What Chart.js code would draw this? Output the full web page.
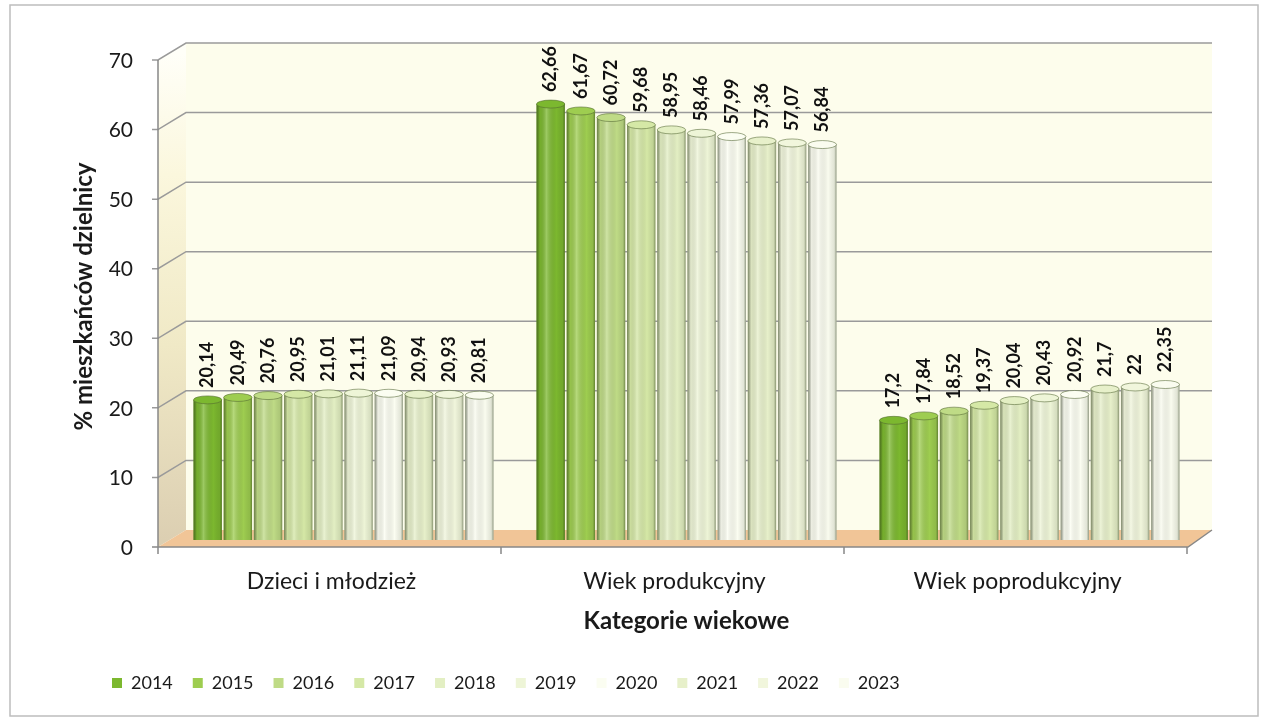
<!DOCTYPE html>
<html lang="pl">
<head>
    <meta charset="UTF-8">
    <title>Kategorie wiekowe</title>
    <script src="https://cdn.jsdelivr.net/npm/chart.js"></script>
    <style>
        html, body { margin: 0; padding: 0; background: #fff; }
        #wrap { width: 1270px; height: 728px; position: relative; }
    </style>
</head>
<body>
<div id="wrap"><canvas id="chart" width="1270" height="728"></canvas></div>
<script>
    const categories = ["Dzieci i młodzież", "Wiek produkcyjny", "Wiek poprodukcyjny"];
    const years = ["2014", "2015", "2016", "2017", "2018", "2019", "2020", "2021", "2022", "2023"];
    const values = [
        [20.14, 62.66, 17.2],
        [20.49, 61.67, 17.84],
        [20.76, 60.72, 18.52],
        [20.95, 59.68, 19.37],
        [21.01, 58.95, 20.04],
        [21.11, 58.46, 20.43],
        [21.09, 57.99, 20.92],
        [20.94, 57.36, 21.7],
        [20.93, 57.07, 22],
        [20.81, 56.84, 22.35]
    ];
    const colors = ["#7cb82f", "#9ecd50", "#bfdb86", "#d5e8a6", "#e3efc3", "#eef5d7",
                    "#fbfdf1", "#e7f0ca", "#f1f6dc", "#fafcef"];
    const yTicks = [0, 10, 20, 30, 40, 50, 60, 70];

    const FONT = "Lato, 'Open Sans', sans-serif";

    // 3D-ish walls, floor and grid drawn behind the bars
    const walls = {
        id: "walls",
        beforeDatasetsDraw(chart) {
            const c = chart.ctx, a = chart.chartArea, y = chart.scales.y;
            const fx = a.left - 14, bx = a.left + 14, rx = a.right + 11, frx = a.right - 13;
            const up = 10, dn = 7;
            const top = y.getPixelForValue(70), zero = y.getPixelForValue(0);
            c.save();
            // back wall
            c.fillStyle = "#fdfdec";
            c.fillRect(bx, top - up, rx - bx, zero - top);
            // left wall
            const g = c.createLinearGradient(0, top, 0, zero);
            g.addColorStop(0, "#fffff8");
            g.addColorStop(0.25, "#fbf7dd");
            g.addColorStop(0.6, "#f0e9c6");
            g.addColorStop(1, "#dccfb2");
            c.fillStyle = g;
            c.beginPath();
            c.moveTo(fx, top + dn); c.lineTo(bx, top - up);
            c.lineTo(bx, zero - up); c.lineTo(fx, zero + dn);
            c.closePath(); c.fill();
            // floor
            c.fillStyle = "#f1c597";
            c.beginPath();
            c.moveTo(fx, zero + dn); c.lineTo(bx, zero - up);
            c.lineTo(rx, zero - up); c.lineTo(frx, zero + dn);
            c.closePath(); c.fill();
            // grid lines
            c.strokeStyle = "#9a9a9a";
            c.lineWidth = 1.5;
            yTicks.forEach(v => {
                if (v === 0) return;
                const p = y.getPixelForValue(v);
                c.beginPath();
                c.moveTo(fx - 6, p + dn); c.lineTo(fx, p + dn);
                c.lineTo(bx, p - up); c.lineTo(rx, p - up);
                c.stroke();
            });
            // axes
            c.strokeStyle = "#888";
            c.beginPath();
            c.moveTo(fx, top + dn); c.lineTo(fx, zero + dn + 6);
            c.moveTo(fx - 6, zero + dn); c.lineTo(frx, zero + dn); c.lineTo(rx, zero - up);
            const cw = (a.right - a.left) / categories.length;
            for (let i = 0; i <= categories.length; i++) {
                const x = fx + i * cw;
                c.moveTo(x, zero + dn); c.lineTo(x, zero + dn + 7);
            }
            c.stroke();
            c.restore();
        },
        afterDraw(chart) {
            const c = chart.ctx;
            c.save();
            c.strokeStyle = "#bdbdbd";
            c.lineWidth = 1.5;
            c.strokeRect(10, 5, 1248, 711);
            c.restore();
        }
    };

    // cylinder shading + rotated value labels above bars
    const cylinders = {
        id: "cylinders",
        afterDatasetsDraw(chart) {
            const c = chart.ctx;
            c.save();
            chart.data.datasets.forEach((ds, i) => {
                chart.getDatasetMeta(i).data.forEach((bar, j) => {
                    const w = bar.width, l = bar.x - w / 2, h = bar.base - bar.y;
                    const g = c.createLinearGradient(l, 0, l + w, 0);
                    g.addColorStop(0, "rgba(40,55,20,0.55)");
                    g.addColorStop(0.12, "rgba(0,0,0,0.05)");
                    g.addColorStop(0.35, "rgba(255,255,255,0.25)");
                    g.addColorStop(0.7, "rgba(0,0,0,0)");
                    g.addColorStop(0.92, "rgba(40,55,20,0.12)");
                    g.addColorStop(1, "rgba(40,55,20,0.5)");
                    c.fillStyle = g;
                    c.fillRect(l, bar.y, w, h);
                    // top cap
                    c.beginPath();
                    c.ellipse(bar.x, bar.y, w / 2, 4, 0, 0, Math.PI * 2);
                    c.fillStyle = ds.backgroundColor;
                    c.fill();
                    c.strokeStyle = "rgba(80,100,50,0.55)";
                    c.lineWidth = 1;
                    c.stroke();
                });
            });
            c.font = "bold 18px " + FONT;
            c.fillStyle = "#111";
            c.textAlign = "left";
            c.textBaseline = "middle";
            chart.data.datasets.forEach((ds, i) => {
                chart.getDatasetMeta(i).data.forEach((bar, j) => {
                    const txt = String(ds.data[j]).replace(".", ",");
                    c.save();
                    c.translate(bar.x, bar.y - 12);
                    c.rotate(-Math.PI / 2);
                    c.fillText(txt, 0, 0);
                    c.restore();
                });
            });
            c.restore();
        }
    };

    new Chart(document.getElementById("chart"), {
        type: "bar",
        data: {
            labels: categories,
            datasets: years.map((yr, i) => ({
                label: yr,
                data: values[i],
                backgroundColor: colors[i],
                borderWidth: 0,
                categoryPercentage: 0.88,
                barPercentage: 0.94
            }))
        },
        options: {
            responsive: false,
            animation: false,
            layout: { padding: { left: 92, right: 69, top: 53, bottom: 26 } },
            plugins: {
                legend: {
                    position: "bottom",
                    align: "start",
                    labels: {
                        boxWidth: 10, boxHeight: 10, padding: 20,
                        color: "#1a1a1a",
                        font: { family: FONT, size: 18 }
                    }
                },
                tooltip: { enabled: false }
            },
            scales: {
                x: {
                    grid: { display: false, drawTicks: false },
                    border: { display: false },
                    afterFit(s) { s.height = 114; },
                    ticks: {
                        color: "#1a1a1a", padding: 28, labelOffset: -12,
                        font: { family: FONT, size: 23 }
                    },
                    title: {
                        display: true, text: "Kategorie wiekowe", color: "#1a1a1a",
                        font: { family: FONT, size: 24, weight: "bold" },
                        padding: { top: 0, bottom: 18 }
                    }
                },
                y: {
                    min: 0, max: 70,
                    grid: { display: false, drawTicks: false },
                    border: { display: false },
                    afterFit(s) { s.width = 80; },
                    afterBuildTicks(s) { s.ticks = yTicks.map(v => ({ value: v })); },
                    ticks: {
                        color: "#1a1a1a", padding: 39, labelOffset: 8,
                        font: { family: FONT, size: 21 }
                    },
                    title: {
                        display: true, text: "% mieszkańców dzielnicy", color: "#1a1a1a",
                        font: { family: FONT, size: 24, weight: "bold" },
                        padding: { top: -22, bottom: 0 }
                    }
                }
            }
        },
        plugins: [walls, cylinders]
    });
</script>
</body>
</html>
